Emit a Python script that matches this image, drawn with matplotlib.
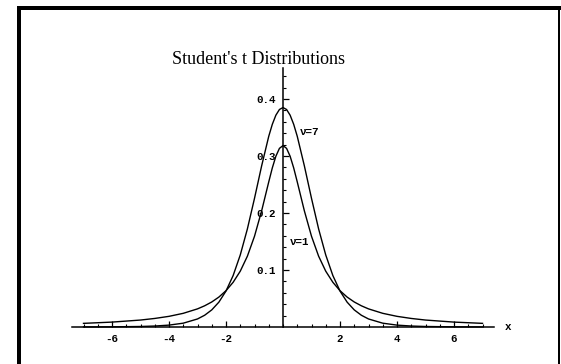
import numpy as np
import matplotlib
matplotlib.use("Agg")
import matplotlib.pyplot as plt
from matplotlib.patches import Rectangle

x_half = [0, 0.125, 0.25, 0.375, 0.5, 0.75, 1, 1.25, 1.5, 1.75, 2, 2.25,
          2.5, 2.75, 3, 3.5, 4, 4.5, 5, 6, 7]
t7_half = [0.3850, 0.3816, 0.3716, 0.3556, 0.3346, 0.2826, 0.2257, 0.1720,
           0.1263, 0.0902, 0.0631, 0.0436, 0.0300, 0.0206, 0.0141, 0.0067,
           0.0033, 0.0017, 0.0009, 0.0003, 0.0001]
t1_half = [0.3183, 0.3134, 0.2996, 0.2791, 0.2546, 0.2037, 0.1592, 0.1242,
           0.0979, 0.0784, 0.0637, 0.0525, 0.0439, 0.0372, 0.0318, 0.0240,
           0.0187, 0.0150, 0.0122, 0.0086, 0.0064]

x_major = [-6, -4, -2, 2, 4, 6]
y_major = [0.1, 0.2, 0.3, 0.4]

def mirror(xs, ys):
    xs = np.asarray(xs)
    ys = np.asarray(ys)
    return np.concatenate([-xs[:0:-1], xs]), np.concatenate([ys[:0:-1], ys])

mono = dict(family=["Liberation Mono", "DejaVu Sans Mono"], weight="bold", size=7.8)

W, H = 561, 364
fig = plt.figure(figsize=(W / 100, H / 100), dpi=100)

# frame around the cell
fig.add_artist(Rectangle((17 / W, 0), 4 / W, (H - 6) / H, transform=fig.transFigure,
                         color="black", lw=0))
fig.add_artist(Rectangle((17 / W, (H - 10) / H), (W - 17) / W, 4 / H,
                         transform=fig.transFigure, color="black", lw=0))
fig.add_artist(Rectangle((558 / W, 0), 2 / W, (H - 6) / H, transform=fig.transFigure,
                         color="black", lw=0))

ax = fig.add_axes([55 / W, 25.6 / H, 456 / W, 279.3 / H])
ax.set_xlim(-8, 8)
ax.set_ylim(-0.02, 0.47)
ax.patch.set_alpha(0)

xs, ys = mirror(x_half, t7_half)
ax.plot(xs, ys, color="black", lw=1.0)
xs, ys = mirror(x_half, t1_half)
ax.plot(xs, ys, color="black", lw=1.0)

for s in ["top", "right"]:
    ax.spines[s].set_visible(False)
ax.spines["left"].set_position(("data", 0))
ax.spines["bottom"].set_position(("data", 0))
ax.spines["left"].set_bounds(0, 0.455)
ax.spines["bottom"].set_bounds(-7.4, 7.4)
for s in ["left", "bottom"]:
    ax.spines[s].set_linewidth(1.1)

ax.set_xticks(x_major)
ax.set_xticks(np.arange(-7, 7.01, 0.5), minor=True)
ax.set_yticks(y_major)
ax.set_yticks(np.arange(0.02, 0.45, 0.02), minor=True)
ax.set_xticklabels([str(v) for v in x_major], **mono)
ax.set_yticklabels(["%.1f" % v for v in y_major], **mono)
ax.tick_params(which="major", direction="in", length=4, width=0.9, pad=5)
ax.tick_params(which="minor", direction="in", length=2.3, width=0.8)

ax.text(7.9, 0, "x", ha="center", va="center", **mono)
ax.text(0.6, 0.342, "\u03bd=7", ha="left", va="center", **mono)
ax.text(0.25, 0.149, "\u03bd=1", ha="left", va="center", **mono)

fig.text(258 / W, 1 - 59 / H, "Student's t Distributions", ha="center", va="center",
         family=["Liberation Serif", "DejaVu Serif"], size=13)

fig.savefig("out.png", dpi=100)
